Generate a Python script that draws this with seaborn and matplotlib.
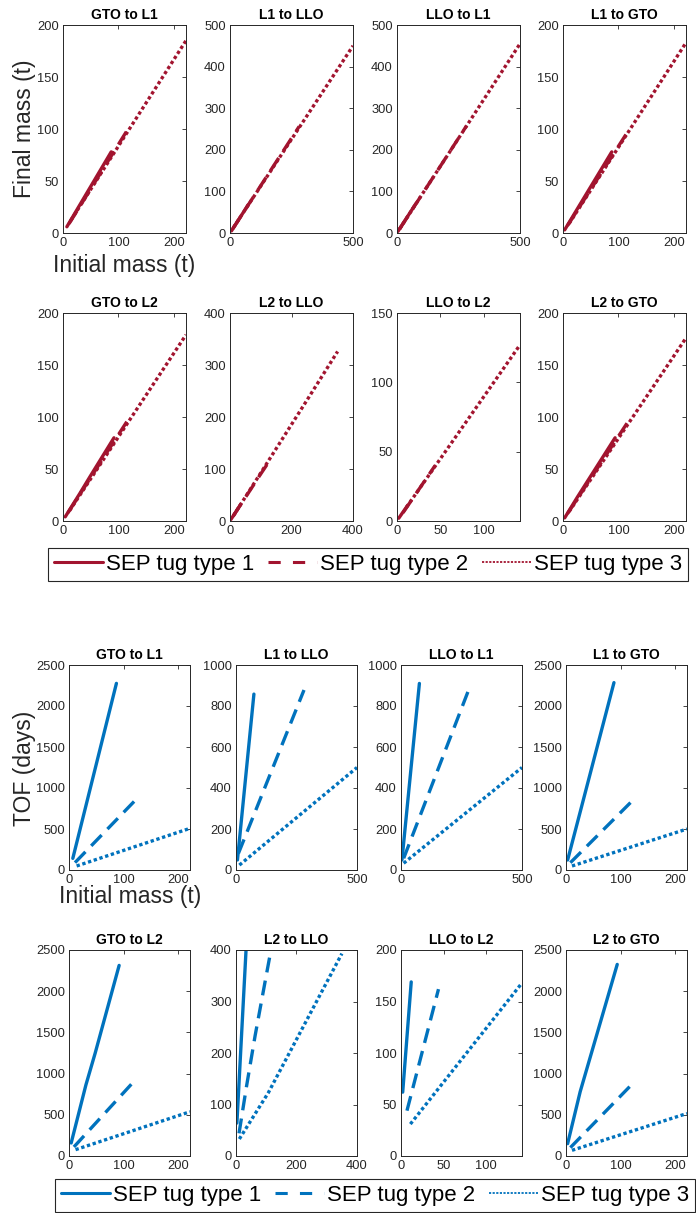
import matplotlib
matplotlib.use("Agg")
import matplotlib.pyplot as plt
import seaborn as sns
from matplotlib.lines import Line2D

# ---------------- data ----------------
titles = ["GTO to L1", "L1 to LLO", "LLO to L1", "L1 to GTO",
          "GTO to L2", "L2 to LLO", "LLO to L2", "L2 to GTO"]
type_labels = ["SEP tug type 1", "SEP tug type 2", "SEP tug type 3"]

# initial mass (t) per panel, per tug type
init_t1 = [[7, 87], [6, 74], [4, 76], [3, 88],
           [4, 31, 48, 92], [3, 35], [2, 12], [3, 26, 94]]
init_t2 = [[11, 122], [10, 281], [11, 282], [8, 120],
           [9, 117], [10, 35, 63, 96, 122], [7, 44], [8, 118]]
init_t3 = [[14, 222], [14, 500], [11, 500], [11, 222],
           [12, 222], [11, 107, 251, 350], [11, 142], [11, 222]]

# final mass (t)
final_t1 = [[6, 78], [5, 68], [4, 70], [3, 78],
            [4, 27, 42, 80], [3, 32], [2, 11], [3, 23, 80]]
final_t2 = [[9, 104], [9, 256], [10, 257], [7, 100],
            [8, 97], [9, 32, 57, 87, 110], [6, 40], [7, 96]]
final_t3 = [[12, 185], [13, 450], [10, 455], [9, 183],
            [10, 179], [10, 99, 233, 326], [10, 127], [9, 176]]

# time of flight (days)
tof_t1 = [[142, 2276], [49, 858], [49, 910], [122, 2285],
          [158, 862, 1248, 2313], [64, 420], [62, 169], [150, 780, 2325]]
tof_t2 = [[90, 853], [81, 878], [57, 886], [89, 833],
          [110, 890], [44, 136, 233, 338, 420], [44, 162], [102, 850]]
tof_t3 = [[49, 508], [24, 500], [33, 500], [49, 500],
          [77, 537], [33, 123, 283, 393], [31, 168], [69, 516]]

# axis limits / ticks
x_max = [222, 500, 500, 222, 222, 400, 142, 222]
x_ticks = [[0, 100, 200], [0, 500], [0, 500], [0, 100, 200],
           [0, 100, 200], [0, 200, 400], [0, 50, 100], [0, 100, 200]]
mass_y_max = [200, 500, 500, 200, 200, 400, 150, 200]
mass_y_step = [50, 100, 100, 50, 50, 100, 50, 50]
tof_y_max = [2500, 1000, 1000, 2500, 2500, 400, 200, 2500]
tof_y_step = [500, 200, 200, 500, 500, 100, 50, 500]

# ---------------- style ----------------
sns.set_style("white")
plt.rcParams['font.family'] = ['Liberation Sans', 'DejaVu Sans']

RED = "#A2142F"
BLUE = "#0072BD"
GRAY = "#262626"
styles = ['-', (0, (4.5, 2.5)), (0, (1, 0.8))]
LW = 2.4

W, H = 696, 1213
fig = plt.figure(figsize=(W / 100, H / 100), dpi=100)


def rect(l, t, r, b):
    return [l / W, 1 - b / H, (r - l) / W, (b - t) / H]


col_top = [63, 230, 397, 563]
col_bot = [69, 236, 401, 566]
rows_top = [(25, 233), (313, 521)]
rows_bot = [(665, 870), (950, 1156)]


def draw_group(cols, width, rows, yvals, ymax, ystep, color):
    axes = []
    for i in range(8):
        r, c = divmod(i, 4)
        t, b = rows[r]
        ax = fig.add_axes(rect(cols[c], t, cols[c] + width, b))
        xs = [init_t1[i], init_t2[i], init_t3[i]]
        for k in range(3):
            sns.lineplot(x=xs[k], y=yvals[k][i], ax=ax, color=color,
                         linewidth=LW, linestyle=styles[k], sort=False,
                         estimator=None)
        ax.set_xlim(0, x_max[i])
        ax.set_ylim(0, ymax[i])
        ax.set_xticks(x_ticks[i])
        ax.set_yticks(list(range(0, ymax[i] + 1, ystep[i])))
        ax.tick_params(direction='in', top=True, right=True, length=3,
                       width=0.6, colors=GRAY, labelsize=9.3, pad=3)
        for s in ax.spines.values():
            s.set_color(GRAY)
            s.set_linewidth(0.7)
        ax.set_title(titles[i], fontsize=10, fontweight='bold', pad=4,
                     color='black')
        ax.set_xlabel("")
        ax.set_ylabel("")
        axes.append(ax)
    return axes


draw_group(col_top, 123, rows_top, [final_t1, final_t2, final_t3],
           mass_y_max, mass_y_step, RED)
draw_group(col_bot, 121, rows_bot, [tof_t1, tof_t2, tof_t3],
           tof_y_max, tof_y_step, BLUE)

# axis labels
fig.text(24 / W, 1 - 129 / H, "Final mass (t)", rotation=90, fontsize=16.5,
         color=GRAY, ha='center', va='center')
fig.text(124.5 / W, 1 - 265 / H, "Initial mass (t)", fontsize=16.5,
         color=GRAY, ha='center', va='center')
fig.text(24 / W, 1 - 768 / H, "TOF (days)", rotation=90, fontsize=16.5,
         color=GRAY, ha='center', va='center')
fig.text(130 / W, 1 - 897 / H, "Initial mass (t)", fontsize=16.5,
         color=GRAY, ha='center', va='center')


def make_legend(color, x, y):
    handles = [Line2D([], [], color=color, lw=2.2, linestyle='-'),
               Line2D([], [], color=color, lw=2.2, linestyle=(0, (4, 4))),
               Line2D([], [], color=color, lw=1.3, linestyle=(0, (1.2, 0.8)))]
    leg = fig.legend(handles, type_labels, loc='upper left',
                     bbox_to_anchor=(x / W, 1 - y / H), ncol=3,
                     fontsize=16, handlelength=2.2, handletextpad=0.15,
                     columnspacing=0.6, borderpad=0.28, borderaxespad=0,
                     fancybox=False, framealpha=1, edgecolor=GRAY,
                     labelcolor='black')
    leg.get_frame().set_linewidth(0.8)
    return leg


make_legend(RED, 48, 548)
make_legend(BLUE, 55, 1179)

fig.savefig("out.png", dpi=100)
